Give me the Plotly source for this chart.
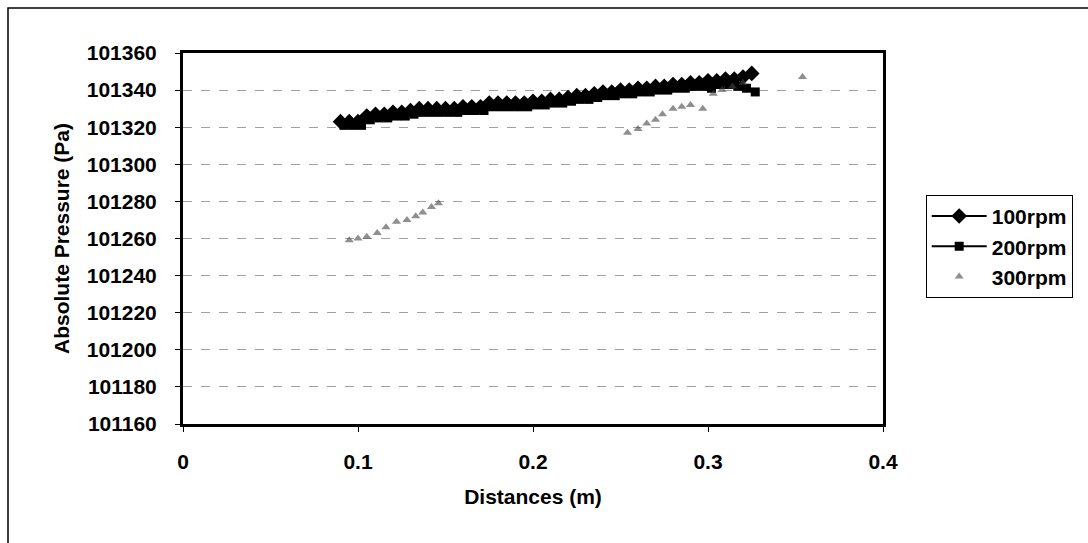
import plotly.graph_objects as go

# ---- data ----
x_100 = [0.090, 0.095, 0.100, 0.105, 0.110, 0.115, 0.120, 0.125, 0.130, 0.135,
         0.140, 0.145, 0.150, 0.155, 0.160, 0.165, 0.170, 0.175, 0.180, 0.185,
         0.190, 0.195, 0.200, 0.205, 0.210, 0.215, 0.220, 0.225, 0.230, 0.235,
         0.240, 0.245, 0.250, 0.255, 0.260, 0.265, 0.270, 0.275, 0.280, 0.285,
         0.290, 0.295, 0.300, 0.305, 0.310, 0.315, 0.320, 0.325]
p_100 = [101323, 101323, 101323, 101326, 101327, 101327, 101328, 101328, 101329, 101330,
         101330, 101330, 101330, 101330, 101331, 101331, 101331, 101333, 101333, 101333,
         101333, 101333, 101334, 101334, 101335, 101335, 101336, 101337, 101337, 101338,
         101339, 101339, 101340, 101340, 101341, 101341, 101342, 101342, 101343, 101343,
         101344, 101344, 101345, 101345, 101346, 101346, 101347, 101349]

x_200 = [0.092, 0.097, 0.102, 0.107, 0.112, 0.117, 0.122, 0.127, 0.132, 0.137,
         0.142, 0.147, 0.152, 0.157, 0.162, 0.167, 0.172, 0.177, 0.182, 0.187,
         0.192, 0.197, 0.202, 0.207, 0.212, 0.217, 0.222, 0.227, 0.232, 0.237,
         0.242, 0.247, 0.252, 0.257, 0.262, 0.267, 0.272, 0.277, 0.282, 0.287,
         0.292, 0.297, 0.302, 0.307, 0.312, 0.317, 0.322, 0.327]
p_200 = [101321, 101321, 101321, 101324, 101325, 101325, 101326, 101326, 101327, 101328,
         101328, 101328, 101328, 101328, 101329, 101329, 101329, 101331, 101331, 101331,
         101331, 101331, 101332, 101332, 101333, 101333, 101334, 101335, 101335, 101336,
         101337, 101337, 101338, 101338, 101339, 101339, 101340, 101340, 101341, 101341,
         101342, 101342, 101341, 101343, 101343, 101342, 101341, 101339]

x_300 = [0.095, 0.100, 0.105, 0.111, 0.116, 0.122, 0.128, 0.133, 0.137, 0.142, 0.146,
         None,
         0.254, 0.260, 0.265, 0.270, 0.274, 0.280, 0.285, 0.290, 0.297, 0.303, 0.308,
         0.314, 0.320, 0.354]
p_300 = [101259, 101260, 101261, 101263, 101266, 101269, 101270, 101272, 101274, 101277, 101279,
         None,
         101317, 101319, 101322, 101324, 101327, 101330, 101331, 101332, 101330, 101338, 101340,
         101342, 101344, 101347]

x_ticks = [0, 0.1, 0.2, 0.3, 0.4]
y_ticks = [101160, 101180, 101200, 101220, 101240, 101260, 101280, 101300, 101320, 101340, 101360]

FONT = "Liberation Sans, Arial, sans-serif"
FS = 21

fig = go.Figure()
fig.add_trace(go.Scatter(
    x=x_100, y=p_100, name="100rpm", mode="lines+markers",
    line=dict(color="black", width=2),
    marker=dict(symbol="diamond", size=12, color="black")))
fig.add_trace(go.Scatter(
    x=x_200, y=p_200, name="200rpm", mode="lines+markers",
    line=dict(color="black", width=2),
    marker=dict(symbol="square", size=9, color="black")))
fig.add_trace(go.Scatter(
    x=x_300, y=p_300, name="300rpm", mode="markers",
    marker=dict(symbol="triangle-up", size=8, color="#444444", opacity=0.6)))

fig.update_layout(
    width=1088, height=543,
    margin=dict(l=183, r=205, t=53, b=119),
    paper_bgcolor="white", plot_bgcolor="white",
    font=dict(family=FONT, size=FS, color="black"),
    showlegend=True,
    legend=dict(x=1.061, y=0.34, xanchor="left", yanchor="bottom",
                bordercolor="black", borderwidth=1, bgcolor="white",
                font=dict(family=FONT, size=FS, color="black", weight="bold"),
                tracegroupgap=0, itemwidth=55),
    shapes=[dict(type="rect", xref="paper", yref="paper",
                 x0=-0.25, x1=1.5, y0=-0.5, y1=1.121,
                 line=dict(color="black", width=1.5), layer="below")],
)

fig.update_xaxes(
    range=[0, 0.4], tickvals=x_ticks, ticktext=[str(v) for v in x_ticks],
    showgrid=False, zeroline=False,
    showline=True, linecolor="black", linewidth=3, mirror=True,
    ticks="outside", ticklen=5, tickcolor="black",
    tickfont=dict(family=FONT, size=FS, color="black", weight="bold"),
    ticklabelstandoff=12,
    title=dict(text="Distances (m)", standoff=18,
               font=dict(family=FONT, size=FS, color="black", weight="bold")))

fig.update_yaxes(
    range=[101160, 101360], tickvals=y_ticks, ticktext=[str(v) for v in y_ticks],
    showgrid=True, gridcolor="#a0a0a0", griddash="dash", gridwidth=1,
    zeroline=False,
    showline=True, linecolor="black", linewidth=3, mirror=True,
    ticks="outside", ticklen=5, tickcolor="black",
    tickfont=dict(family=FONT, size=FS, color="black", weight="bold"),
    ticklabelstandoff=14,
    title=dict(text="Absolute Pressure (Pa)", standoff=12,
               font=dict(family=FONT, size=FS, color="black", weight="bold")))

fig.write_html("out.html")
